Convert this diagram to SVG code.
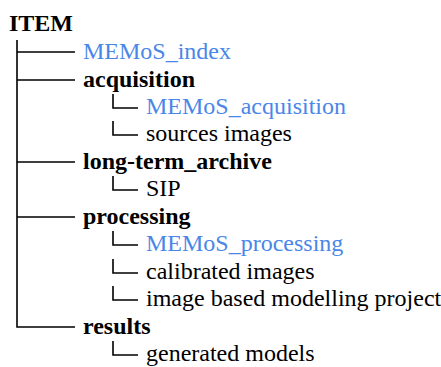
<svg xmlns="http://www.w3.org/2000/svg" width="441" height="367" viewBox="0 0 441 367">
<style>
text{font-family:'Liberation Serif',serif;font-size:24px;fill:#000}
.b{font-weight:bold}
.l{fill:#4a86e8}
.c{fill:none;stroke:#000;stroke-width:1.6}
</style>
<rect width="441" height="367" fill="#fff"/>
<g id="connectors">
<path class="c" d="M17 40V327H75"/>
<path class="c" d="M17 52H75M17 80H75M17 162H75M17 217H75"/>
<path class="c" d="M113 94V108H138"/>
<path class="c" d="M113 121V135H138"/>
<path class="c" d="M113 176V190H138"/>
<path class="c" d="M113 231V245H138"/>
<path class="c" d="M113 259V273H138"/>
<path class="c" d="M113 286V300H138"/>
<path class="c" d="M113 341V355H138"/>
</g>
<g id="item"><text class="b" x="9" y="31">ITEM</text></g>
<g id="memos_index"><text class="l" x="83" y="59" font-family="Liberation Serif">MEMoS_index</text></g>
<g id="acquisition"><text class="b" x="83" y="87">acquisition</text></g>
<g id="memos_acquisition"><text class="l" x="146" y="114">MEMoS_acquisition</text></g>
<g id="sources_images"><text x="146" y="141">sources images</text></g>
<g id="long_term_archive"><text class="b" x="83" y="169">long-term_archive</text></g>
<g id="sip"><text x="146" y="196">SIP</text></g>
<g id="processing"><text class="b" x="83" y="224">processing</text></g>
<g id="memos_processing"><text class="l" x="146" y="251">MEMoS_processing</text></g>
<g id="calibrated_images"><text x="146" y="279">calibrated images</text></g>
<g id="image_based"><text x="146" y="306">image based modelling project</text></g>
<g id="results"><text class="b" x="83" y="334">results</text></g>
<g id="generated_models"><text x="146" y="361">generated models</text></g>
</svg>
